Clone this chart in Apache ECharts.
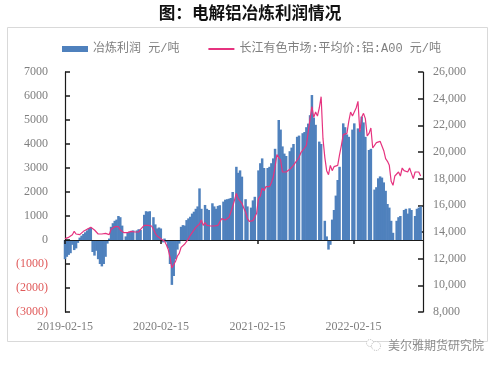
<!DOCTYPE html>
<html>
<head>
<meta charset="utf-8">
<style>
  html, body { margin: 0; padding: 0; background: #fff; }
  #chart { width: 500px; height: 366px; }
</style>
<script src="https://cdn.jsdelivr.net/npm/echarts@6/dist/echarts.min.js"></script>
</head>
<body>
<div id="chart"></div>
<script>
const startDay = '2019-02-15'
const endDay = '2022-11-06'
const yearTicks = ['2019-02-15', '2020-02-15', '2021-02-15', '2022-02-15']

// 冶炼利润 元/吨, one value per week, null where the source has a gap
const profit = [
  -800, -700, -620, -550, -200, -420, -350, -120, 100, 180,
  250, 320, 400, 500, 520, -500, -650, -450, -800, -1000,
  -1100, -1000, -700, -150, 60, 550, 700, 800, 850, 1000,
  950, 600, null, 150, 320, 350, 380, 400, null, 400,
  450, 420, null, 1050, 1200, 1180, 1200, null, 950, 650,
  480, 520, 480, -100, 60, -100, -350, -1000, -1870, -1500,
  -800, -400, -150, 550, 620, 600, 830, 900, 970, 1100,
  1180, 1300, 1400, 2150, 1300, null, 1460, 1300, 1250, null,
  1530, 1400, 1300, 1420, 1450, null, 1600, 1680, 1700, 1720,
  1750, 2000, null, 3050, 2800, 2900, 2640, null, 1700, 1400,
  null, 1350, 1650, 1800, null, 2900, 3200, 3400, 3000, null,
  3000, 3050, 3200, 3400, 3800, null, 5000, 4600, 3900, 3600,
  3500, null, 3700, 3850, 4000, null, 4300, 4350, null, 4450,
  4500, 4700, 4850, 5200, 6040, 5100, 4800, null, 4100, 4000,
  null, 800, 150, -400, -200, 850, 1250, 1850, 2500, 3050,
  null, 4860, 4700, 4400, 4300, null, 4600, 4860, null, 4650,
  4580, 5140, 4900, 4300, null, 3750, 3800, null, 2100, 2200,
  2570, 2650, 2600, 2400, 2050, 1500, 1350, 800, 300, null,
  800, 950, 1000, null, 1250, 1300, 1100, 1320, 1250, null,
  1000, 1300, 1350, 1400
]

// 长江有色市场:平均价:铝:A00 元/吨, same weeks
const alPrice = [
  13500, 13550, 13600, 13750, 13800, 14050, 13850, 13750, 13800, 13950,
  14050, 14000, 14200, 14300, 14350, 14250, 14150, 14000, 13850, 13750,
  13850, 13950, 13900, 13950, 13800, 14200, 14350, 14400, 14450, 14400,
  14150, 14000, 13950, 13900, 13950, 14000, 14050, 13950, 14000, 13950,
  14000, 14200, 14350, 14500, 14550, 14500, 14500, 14450, 14200, 13900,
  13700, 13600, 13500, 13450, 13300, 13050, 12700, 12100, 11300, 11450,
  11800, 12200, 12400, 12850, 12800, 13100, 13300, 13500, 13750, 13950,
  14100, 14350, 14500, 14600, 14900, 14500, 14700, 14500, 14550, 14450,
  14500, 14450, 14550, 14500, 14600, 15000, 15050, 14900, 14850, 15100,
  15500, 15900, 16400, 16900, 16500, 16600, 16150, 15800, 15500, 15000,
  14800, 14700, 14850, 15000, 15400, 16500, 16700, 17300, 17100, 17400,
  17300, 17400, 17700, 18100, 18900, 19800, 19900, 19400, 18500, 18400,
  18500, 18550, 18700, 18850, 19000, 19200, 19400, 19600, 19950, 20100,
  20300, 20500, 21500, 22500, 23400, 22600, 23000, 22700, 23300, 24150,
  21000, 19600, 18600, 18300, 19000, 18600, 18900, 18800, 19000, 19800,
  20500, 21300, 21200, 21400, 22300, 23000, 22700, 22700, 23300, 23800,
  21500, 22600, 22900, 22500, 21200, 21400, 21800, 20300, 20400, 20700,
  20600, 20800, 20700, 20100, 19500, 19300, 19000, 17800, 17500, 18200,
  18300, 18500, 18200, 18800, 18600, 18700, 18500, 18800, 18400, 18000,
  18500, 18600, 18500, 18200
]

const weekMs = 7 * 24 * 3600 * 1000
const firstWeek = Date.parse(startDay + 'T00:00:00Z')
const lastDay = Date.parse(endDay + 'T00:00:00Z')
const weekTimes = profit.map((_, i) => firstWeek + i * weekMs)
const tickTimes = yearTicks.map((d) => Date.parse(d + 'T00:00:00Z'))

const grey = '#7f7f7f'
const axisColor = '#1a1a1a'
const latinFont = '"Liberation Serif", "Noto Sans CJK SC", serif'

const chart = echarts.init(document.getElementById('chart'), null, { renderer: 'canvas' })

chart.setOption({
  animation: false,
  backgroundColor: '#fff',
  title: {
    text: '图：电解铝冶炼利润情况',
    left: 'center',
    top: -1,
    textStyle: { fontFamily: '"Noto Sans CJK SC"', fontSize: 16.6, fontWeight: 'bold', color: '#111' }
  },
  legend: {
    top: 38,
    left: 57,
    itemWidth: 26,
    itemHeight: 6,
    itemGap: 28,
    textStyle: { fontFamily: '"Liberation Mono", "Noto Sans CJK SC"', fontSize: 12, color: grey },
    data: [
      { name: '冶炼利润 元/吨', icon: 'rect' },
      { name: '长江有色市场:平均价:铝:A00 元/吨', itemStyle: { opacity: 0 } }
    ]
  },
  grid: { left: 65, right: 77, top: 72, bottom: 54 },
  xAxis: [
    {
      type: 'value',
      min: firstWeek,
      max: lastDay,
      z: 5,
      axisLine: { onZero: true, onZeroAxisIndex: 0, lineStyle: { color: axisColor, width: 1.2 } },
      axisTick: { show: true, customValues: tickTimes, length: 4, lineStyle: { color: axisColor, width: 1.5 } },
      axisLabel: { show: false },
      splitLine: { show: false }
    },
    {
      type: 'value',
      position: 'bottom',
      min: firstWeek,
      max: lastDay,
      axisLine: { show: false, onZero: false },
      axisTick: { show: false },
      axisLabel: {
        customValues: tickTimes,
        margin: 9,
        fontFamily: latinFont,
        fontSize: 12,
        color: grey,
        formatter: (v) => new Date(v).toISOString().slice(0, 10)
      },
      splitLine: { show: false }
    }
  ],
  yAxis: [
    {
      type: 'value',
      min: -3000,
      max: 7000,
      interval: 1000,
      axisLine: { show: true, lineStyle: { color: axisColor, width: 1.2 } },
      axisTick: { show: true, inside: true, length: 5, lineStyle: { color: axisColor, width: 1.5 } },
      axisLabel: {
        margin: 17,
        fontFamily: latinFont,
        fontSize: 12,
        color: (v) => (Number(v) < 0 ? '#e05a5a' : grey),
        formatter: (v) => (v < 0 ? '(' + Math.abs(v) + ')' : String(v))
      },
      splitLine: { show: false }
    },
    {
      type: 'value',
      position: 'right',
      min: 8000,
      max: 26000,
      interval: 2000,
      axisLine: { show: true, lineStyle: { color: axisColor, width: 1.2 } },
      axisTick: { show: true, inside: true, length: 5, lineStyle: { color: axisColor, width: 1.5 } },
      axisLabel: {
        margin: 10,
        fontFamily: latinFont,
        fontSize: 12,
        color: grey,
        formatter: (v) => Math.floor(v / 1000) + ',000'
      },
      splitLine: { show: false }
    }
  ],
  series: [
    {
      name: '冶炼利润 元/吨',
      type: 'bar',
      xAxisIndex: 0,
      yAxisIndex: 0,
      barWidth: 2.5,
      itemStyle: { color: '#4f81bd' },
      data: weekTimes.map((t, i) => [t, profit[i]])
    },
    {
      name: '长江有色市场:平均价:铝:A00 元/吨',
      type: 'line',
      xAxisIndex: 1,
      yAxisIndex: 1,
      symbol: 'none',
      z: 6,
      lineStyle: { color: '#e6337f', width: 1.2 },
      itemStyle: { color: '#e6337f' },
      data: weekTimes.map((t, i) => [t, alPrice[i]])
    }
  ],
  graphic: [
    {
      type: 'rect',
      silent: true,
      shape: { x: 7.5, y: 27.5, width: 480, height: 314 },
      style: { fill: 'none', stroke: '#d9d9d9', lineWidth: 1 }
    },
    {
      type: 'circle',
      silent: true,
      shape: { cx: 370, cy: 343, r: 3.5 },
      style: { fill: '#fff', stroke: '#bbb', lineWidth: 1, lineDash: [1, 1] }
    },
    {
      type: 'circle',
      silent: true,
      shape: { cx: 376, cy: 346, r: 4.5 },
      style: { fill: '#fff', stroke: '#bbb', lineWidth: 1, lineDash: [1, 1] }
    },
    {
      type: 'text',
      silent: true,
      left: 388,
      top: 339,
      style: {
        text: '美尔雅期货研究院',
        fontFamily: '"Noto Sans CJK SC"',
        fontSize: 12,
        fill: '#8c8c8c'
      }
    }
  ]
})
</script>
</body>
</html>
